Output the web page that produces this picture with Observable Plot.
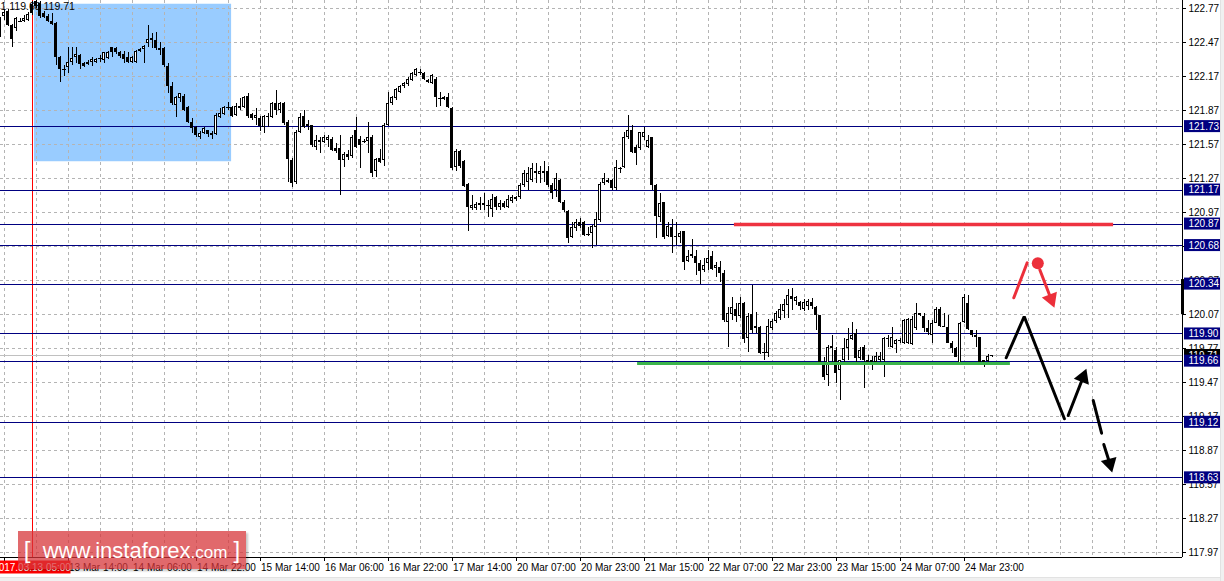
<!DOCTYPE html>
<html><head><meta charset="utf-8">
<script src="https://cdn.jsdelivr.net/npm/d3@7"></script>
<script src="https://cdn.jsdelivr.net/npm/@observablehq/plot@0.6"></script>
<style>
html,body{margin:0;padding:0;background:#fff;}
#wrap{position:relative;width:1224px;height:581px;overflow:hidden;font-family:"Liberation Sans",Arial,sans-serif;}
#wrap svg{position:absolute;left:0;top:0;}
#wm{position:absolute;left:18px;top:531px;width:228px;height:38px;background:rgba(214,52,56,0.74);color:#fff;
 font-family:"Liberation Sans",Arial,sans-serif;font-size:22px;line-height:37px;text-align:center;white-space:nowrap;
 box-shadow:2px 2px 2px rgba(0,0,0,0.22);}
#wm .c{font-size:17px;}
#wm .b{font-size:24px;font-weight:lighter;}
#bot{position:absolute;left:0;top:577px;width:1224px;height:4px;background:#f0f0f0;border-top:1px solid #e2e2e2;}
#rgt{position:absolute;left:1220px;top:0;width:4px;height:581px;background:#f0f0f0;border-left:1px solid #e2e2e2;}
</style></head><body><div id="wrap"></div>
<script>
// ---- data ----
const firstBar = -1;
const open = [122.67,122.70,122.75,122.62,122.60,122.66,122.66,122.67,122.81,122.83,122.82,122.73,122.70,122.66,122.64,122.34,122.23,122.25,122.30,122.34,122.36,122.29,122.28,122.30,122.30,122.33,122.31,122.33,122.43,122.42,122.38,122.37,122.34,122.30,122.30,122.39,122.41,122.46,122.51,122.49,122.42,122.42,122.26,122.08,121.92,121.98,122.00,121.90,121.77,121.72,121.63,121.67,121.70,121.67,121.66,121.81,121.84,121.90,121.90,121.83,121.89,121.90,122.00,121.84,121.80,121.80,121.72,121.81,121.81,121.93,121.87,121.93,121.77,121.43,121.24,121.68,121.82,121.75,121.74,121.55,121.59,121.59,121.61,121.62,121.54,121.54,121.43,121.48,121.47,121.70,121.62,121.60,121.60,121.63,121.33,121.45,121.43,121.74,121.93,121.98,122.03,122.08,122.10,122.14,122.18,122.21,122.20,122.14,122.11,122.15,121.98,121.97,121.99,121.89,121.37,121.51,121.42,121.22,121.01,121.01,121.03,121.05,121.03,121.00,121.10,121.02,121.05,121.02,121.07,121.09,121.10,121.21,121.24,121.25,121.33,121.31,121.33,121.33,121.21,121.17,121.25,121.06,120.98,120.75,120.83,120.88,120.88,120.78,120.79,120.84,120.90,121.23,121.25,121.25,121.18,121.36,121.37,121.63,121.70,121.55,121.54,121.63,121.55,121.63,121.21,120.93,121.06,120.76,120.84,120.76,120.75,120.80,120.54,120.58,120.58,120.52,120.46,120.52,120.58,120.48,120.49,120.43,120.00,120.07,120.12,120.05,120.17,119.86,120.07,119.95,119.96,119.74,119.73,119.95,120.01,120.04,120.10,120.15,120.23,120.19,120.18,120.12,120.14,120.18,120.13,120.06,119.65,119.53,119.79,119.75,119.58,119.67,119.77,119.85,119.90,119.68,119.78,119.67,119.65,119.65,119.67,119.67,119.86,119.78,119.81,119.83,119.82,119.82,119.81,119.95,120.08,120.05,119.95,119.89,119.99,120.12,119.97,119.96,119.82,119.77,119.64,120.00,120.17,119.93,119.89,119.87,119.65,119.66,119.70];
const high = [122.69,122.76,122.76,122.63,122.69,122.68,122.71,122.74,122.83,122.84,122.83,122.75,122.72,122.73,122.65,122.35,122.27,122.43,122.43,122.43,122.37,122.30,122.31,122.34,122.33,122.36,122.38,122.39,122.43,122.43,122.39,122.39,122.38,122.35,122.40,122.42,122.45,122.62,122.55,122.56,122.47,122.43,122.29,122.12,122.00,122.02,122.01,121.91,121.80,121.73,121.69,121.72,121.70,121.69,121.85,121.89,121.91,121.94,121.91,121.93,121.98,122.00,122.02,121.85,121.89,121.82,121.83,121.85,121.94,122.05,121.94,121.94,121.78,121.45,121.70,121.85,121.87,121.78,121.74,121.65,121.63,121.65,121.65,121.63,121.58,121.65,121.50,121.52,121.65,121.81,121.64,121.62,121.77,121.65,121.45,121.53,121.76,122.03,122.00,122.07,122.09,122.12,122.16,122.21,122.24,122.23,122.21,122.15,122.19,122.16,122.03,122.00,122.02,121.90,121.53,121.52,121.43,121.23,121.12,121.06,121.10,121.14,121.08,121.13,121.11,121.08,121.07,121.12,121.12,121.11,121.23,121.34,121.37,121.40,121.40,121.38,121.42,121.38,121.23,121.32,121.26,121.08,120.99,120.88,120.91,120.92,120.89,120.84,120.86,120.97,121.24,121.32,121.27,121.26,121.43,121.37,121.68,121.83,121.74,121.56,121.68,121.72,121.65,121.63,121.22,121.14,121.06,120.88,120.91,120.88,120.80,120.80,120.64,120.73,120.64,120.55,120.57,120.64,120.63,120.53,120.54,120.46,120.13,120.22,120.17,120.22,120.18,120.08,120.33,120.09,119.97,119.82,120.03,120.03,120.10,120.16,120.20,120.29,120.30,120.23,120.19,120.20,120.20,120.21,120.14,120.06,119.69,119.80,119.89,119.78,119.67,119.86,119.95,120.00,119.94,119.78,119.80,119.71,119.70,119.74,119.74,119.87,119.89,119.96,119.85,119.86,120.03,120.04,120.05,120.17,120.08,120.08,120.02,120.02,120.13,120.13,120.08,120.06,119.83,119.78,120.00,120.25,120.24,119.93,119.93,119.87,119.67,119.72,119.71];
const low = [122.52,122.67,122.61,122.43,122.57,122.65,122.65,122.66,122.71,122.77,122.68,122.68,122.65,122.62,122.27,122.12,122.17,122.20,122.27,122.29,122.23,122.25,122.27,122.26,122.29,122.30,122.29,122.32,122.34,122.37,122.33,122.29,122.29,122.29,122.29,122.38,122.29,122.43,122.42,122.40,122.36,122.25,122.02,121.92,121.81,121.94,121.86,121.76,121.67,121.63,121.62,121.66,121.63,121.62,121.65,121.80,121.83,121.87,121.81,121.82,121.87,121.89,121.80,121.78,121.74,121.69,121.67,121.72,121.80,121.83,121.85,121.74,121.24,121.19,121.22,121.67,121.71,121.70,121.55,121.52,121.49,121.58,121.55,121.51,121.49,121.12,121.37,121.43,121.45,121.54,121.36,121.58,121.49,121.28,121.28,121.40,121.38,121.73,121.92,121.96,122.02,122.07,122.08,122.13,122.17,122.18,122.14,122.11,122.10,121.90,121.91,121.96,121.89,121.34,121.33,121.36,121.19,120.80,120.99,120.99,120.99,120.99,120.93,120.93,120.99,120.99,121.01,121.01,121.05,121.07,121.09,121.19,121.17,121.24,121.23,121.23,121.24,121.19,121.09,121.10,121.05,120.97,120.70,120.74,120.80,120.83,120.76,120.76,120.65,120.68,120.88,121.21,121.23,121.17,121.17,121.32,121.36,121.62,121.49,121.39,121.52,121.61,121.54,121.17,120.74,120.88,120.73,120.75,120.61,120.68,120.70,120.46,120.53,120.57,120.42,120.34,120.44,120.46,120.46,120.40,120.35,120.00,119.78,120.02,120.00,120.04,119.82,119.74,119.90,119.90,119.72,119.67,119.69,119.93,119.99,120.02,120.04,120.04,120.11,120.15,120.11,120.10,120.11,120.12,119.93,119.64,119.49,119.44,119.64,119.46,119.31,119.65,119.67,119.84,119.65,119.67,119.42,119.64,119.58,119.64,119.64,119.52,119.78,119.77,119.73,119.82,119.81,119.81,119.80,119.93,120.05,119.91,119.89,119.82,119.99,119.96,119.96,119.82,119.73,119.69,119.64,119.99,119.93,119.87,119.78,119.64,119.60,119.63,119.69];
const close = [122.53,122.74,122.62,122.50,122.68,122.66,122.68,122.72,122.73,122.79,122.70,122.69,122.66,122.63,122.34,122.23,122.23,122.30,122.33,122.37,122.28,122.26,122.30,122.32,122.32,122.33,122.38,122.38,122.38,122.38,122.35,122.32,122.30,122.34,122.39,122.41,122.44,122.50,122.49,122.42,122.40,122.27,122.08,121.93,121.99,122.02,121.87,121.77,121.71,121.65,121.67,121.71,121.66,121.65,121.83,121.85,121.90,121.90,121.82,121.91,121.91,121.99,121.82,121.80,121.83,121.73,121.82,121.82,121.93,121.87,121.93,121.76,121.44,121.23,121.68,121.81,121.72,121.73,121.56,121.61,121.61,121.63,121.63,121.52,121.51,121.43,121.48,121.46,121.63,121.55,121.56,121.60,121.63,121.32,121.44,121.41,121.74,121.93,121.99,122.06,122.08,122.11,122.15,122.20,122.23,122.21,122.15,122.12,122.18,121.99,121.98,121.99,121.90,121.36,121.51,121.38,121.20,121.02,121.03,121.04,121.05,121.03,121.03,121.09,121.02,121.05,121.02,121.09,121.10,121.10,121.21,121.32,121.32,121.36,121.32,121.33,121.32,121.21,121.14,121.27,121.06,120.99,120.74,120.84,120.88,120.85,120.77,120.78,120.85,120.91,121.22,121.27,121.24,121.18,121.37,121.36,121.63,121.70,121.50,121.49,121.68,121.68,121.61,121.21,120.94,121.05,120.75,120.85,120.75,120.75,120.79,120.53,120.58,120.60,120.52,120.45,120.50,120.57,120.47,120.50,120.43,120.02,120.08,120.13,120.05,120.17,119.85,120.05,119.93,119.97,119.73,119.74,119.97,120.01,120.08,120.12,120.16,120.24,120.20,120.22,120.14,120.18,120.19,120.14,120.06,119.65,119.52,119.78,119.77,119.55,119.67,119.77,119.85,119.89,119.68,119.75,119.67,119.65,119.67,119.70,119.70,119.86,119.85,119.87,119.84,119.84,120.02,120.03,120.03,120.08,120.06,119.95,119.91,119.99,120.12,119.97,119.96,119.82,119.77,119.69,119.99,120.22,119.94,119.89,119.87,119.64,119.67,119.70,119.71];

const priceTicks = [122.77,122.47,122.17,121.87,121.57,121.27,120.97,120.67,120.37,120.07,119.77,119.47,119.17,118.87,118.57,118.27,117.97];
const timeTickBars = [0,16,32,48,64,80,96,112,128,144,160,176,192,208,224,240];
const timeTickLabels = ["","13 Mar 14:00","14 Mar 06:00","14 Mar 22:00","15 Mar 14:00","16 Mar 06:00","16 Mar 22:00","17 Mar 14:00","20 Mar 07:00","20 Mar 23:00","21 Mar 15:00","22 Mar 07:00","22 Mar 23:00","23 Mar 15:00","24 Mar 07:00","24 Mar 23:00"];
const gridBars = d3.range(0, 289, 8);
const levelPrices = [121.73,121.17,120.87,120.68,120.34,119.90,119.66,119.12,118.63];
const bidPrice = 119.71;
const vlineBar = 7;
const vlineLabel = "2017.03.13 05:00";
const headerText = "1 119.68 119.71";
const zoneBars = [7.6, 56.9];
const zonePrices = [122.81, 121.42];
const resistBars = [182.6, 277.4], resistPrice = 120.865;
const supportBars = [158.4, 251.6], supportPrice = 119.64;
const sideBarPrices = [120.07, 120.38];
const redStroke = {bars:[252.45,255.8], prices:[120.219,120.528]};
const redDot = {bar:258.45, price:120.525};
const redArrow = {bars:[258.95,262.6], prices:[120.466,120.131]};
const zigBars = [250.55,255.05,265.1], zigPrices = [119.690,120.054,119.151];
const blackArrow1 = {bars:[266.05,270.6], prices:[119.18,119.593]};
const blackDash = {bars:[272.3,274.4], prices:[119.313,119.024]};
const blackArrow2 = {bars:[274.95,277.05], prices:[118.924,118.677]};

// ---- scales ----
const xDomain = [-0.875, 294.625];
const yDomain = [117.927, 122.843];
const plotW = 1182, plotH = 557;
const pxBar = plotW / (xDomain[1]-xDomain[0]);
const pxPrice = plotH / (yDomain[1]-yDomain[0]);
const xMin = xDomain[0], xMax = xDomain[1], yMin = yDomain[0], yMax = yDomain[1];

const bars = open.map((o,i)=>({n:firstBar+i, o, h:high[i], l:low[i], c:close[i]}));
const up = bars.filter(d=>d.c>d.o), down = bars.filter(d=>d.c<d.o), flat = bars.filter(d=>d.c===d.o);
const hw = 0.375;

function head(a, tipLen){
  const tx=a.bars[1], tp=a.prices[1];
  const dx=(a.bars[1]-a.bars[0])*pxBar, dy=-(a.prices[1]-a.prices[0])*pxPrice;
  const L=Math.hypot(dx,dy), ux=dx/L, uy=dy/L;
  return {n: tx-tipLen*ux/pxBar, p: tp+tipLen*uy/pxPrice, rot: Math.atan2(ux,-uy)*180/Math.PI};
}
const R = 6, tipLen = 2*Math.sqrt(Math.PI*R*R/(3*Math.sqrt(3)));
const heads = [
  Object.assign(head(redArrow, tipLen), {color:"#ec2f3a"}),
  Object.assign(head(blackArrow1, tipLen), {color:"#000"}),
  Object.assign(head({bars:[blackDash.bars[0], blackArrow2.bars[1]], prices:[blackDash.prices[0], blackArrow2.prices[1]]}, tipLen), {color:"#000"})
];
const shafts = [
  {x1:redArrow.bars[0], y1:redArrow.prices[0], x2:heads[0].n, y2:heads[0].p, color:"#ec2f3a"},
  {x1:blackArrow1.bars[0], y1:blackArrow1.prices[0], x2:heads[1].n, y2:heads[1].p, color:"#000"},
  {x1:blackDash.bars[0], y1:blackDash.prices[0], x2:blackDash.bars[1], y2:blackDash.prices[1], color:"#000"},
  {x1:blackArrow2.bars[0], y1:blackArrow2.prices[0], x2:heads[2].n, y2:heads[2].p, color:"#000"},
  {x1:redStroke.bars[0], y1:redStroke.prices[0], x2:redStroke.bars[1], y2:redStroke.prices[1], color:"#ec2f3a"}
];
const zig = zigBars.map((b,i)=>({n:b, p:zigPrices[i]}));
const font = "Liberation Sans, Arial, sans-serif";
const boxHalf = 6/pxPrice;

const chart = Plot.plot({
  width: 1224, height: 581,
  marginLeft: 0, marginRight: 1224-plotW, marginTop: 0, marginBottom: 581-plotH,
  x: {type:"linear", domain:xDomain, axis:null},
  y: {type:"linear", domain:yDomain, axis:null},
  style: {background:"white", fontFamily:font, fontSize:"10px", overflow:"visible"},
  marks: [
    Plot.rect([0], {x1:()=>zoneBars[0], x2:()=>zoneBars[1], y1:()=>zonePrices[0], y2:()=>zonePrices[1], fill:"#99ccff"}),
    Plot.ruleY(priceTicks, {stroke:"#b4b4b4", strokeDasharray:"3,3", shapeRendering:"crispEdges"}),
    Plot.ruleX(gridBars, {stroke:"#b4b4b4", strokeDasharray:"3,3", shapeRendering:"crispEdges"}),
    Plot.ruleX([vlineBar], {stroke:"#ff0000", shapeRendering:"crispEdges"}),
    Plot.text([headerText], {x:()=>xMin, y:()=>yMax, text:d=>d, textAnchor:"start", dy:6, fontSize:10.5, fill:"#000"}),
    Plot.ruleY([bidPrice], {stroke:"#c0c0c0", shapeRendering:"crispEdges"}),
    Plot.ruleY(levelPrices, {stroke:"#000080", strokeWidth:1, shapeRendering:"crispEdges"}),
    // candles
    Plot.ruleX(bars, {x:"n", y1:"l", y2:"h", stroke:"#000", shapeRendering:"crispEdges"}),
    Plot.rect(down, {x1:d=>d.n-hw, x2:d=>d.n+hw, y1:"o", y2:"c", fill:"#000", shapeRendering:"crispEdges"}),
    Plot.rect(up, {x1:d=>d.n-hw, x2:d=>d.n+hw, y1:"o", y2:"c", fill:"#fff", stroke:"#000", inset:0.5, shapeRendering:"crispEdges"}),
    Plot.ruleY(flat, {y:"o", x1:d=>d.n-hw, x2:d=>d.n+hw+0.25, stroke:"#000", shapeRendering:"crispEdges"}),
    // drawn levels
    Plot.ruleY([resistPrice], {x1:()=>resistBars[0], x2:()=>resistBars[1], stroke:"#ee3340", strokeWidth:3.5}),
    Plot.ruleY([supportPrice], {x1:()=>supportBars[0], x2:()=>supportBars[1], stroke:"#3cb44b", strokeWidth:3}),
    // forecast arrows
    Plot.line(zig, {x:"n", y:"p", stroke:"#000", strokeWidth:3, strokeLinecap:"round", strokeLinejoin:"miter"}),
    Plot.link(shafts, {x1:"x1", y1:"y1", x2:"x2", y2:"y2", stroke:"color", strokeWidth:3, strokeLinecap:"round"}),
    Plot.dot(heads, {x:"n", y:"p", symbol:"triangle", r:R, fill:"color", rotate:"rot"}),
    Plot.dot([redDot], {x:"bar", y:"price", r:6, fill:"#ec2f3a"}),
    // axes
    Plot.ruleX([xMax], {y1:yMin, y2:yMax, stroke:"#000", shapeRendering:"crispEdges"}),
    Plot.ruleY([yMin], {x1:xMin, x2:xMax, stroke:"#000", shapeRendering:"crispEdges"}),
    Plot.ruleX([xMax], {y1:()=>sideBarPrices[0], y2:()=>sideBarPrices[1], stroke:"#000", strokeWidth:3}),
    Plot.ruleY(priceTicks, {x1:xMax, x2:xMax+1, stroke:"#000", shapeRendering:"crispEdges"}),
    Plot.text(priceTicks, {x:()=>xMax, y:d=>d, text:d=>d.toFixed(2), textAnchor:"start", dx:6, fontSize:10, fill:"#000"}),
    Plot.ruleX(timeTickBars, {y1:yMin, y2:yMin-4/pxPrice, stroke:"#000", shapeRendering:"crispEdges"}),
    Plot.text(timeTickBars, {x:d=>d, y:()=>yMin, text:(d,i)=>timeTickLabels[i], textAnchor:"start", dx:1, dy:10, fontSize:10, fill:"#000"}),
    // right labels
    Plot.rect([bidPrice], {x1:xMax+0.5, x2:xMax+9.5, y1:d=>d-boxHalf, y2:d=>d+boxHalf, fill:"#000"}),
    Plot.text([bidPrice], {x:()=>xMax, y:d=>d, text:d=>d.toFixed(2), textAnchor:"start", dx:6, fontSize:10, fill:"#fff"}),
    Plot.rect(levelPrices, {x1:xMax+0.5, x2:xMax+9.5, y1:d=>d-boxHalf, y2:d=>d+boxHalf, fill:"#000080"}),
    Plot.text(levelPrices, {x:()=>xMax, y:d=>d, text:d=>d.toFixed(2), textAnchor:"start", dx:6, fontSize:10, fill:"#fff"}),
    // vertical line time label
    Plot.rect([vlineBar], {x1:d=>d-9.75, x2:d=>d+9.75, y1:yMin-3.5/pxPrice, y2:yMin-16.5/pxPrice, fill:"#ff0000"}),
    Plot.text([vlineBar], {x:d=>d, y:()=>yMin, text:()=>vlineLabel, dy:10, fontSize:10, fill:"#fff"})
  ]
});
const wrap = document.getElementById("wrap");
wrap.appendChild(chart);
wrap.insertAdjacentHTML("beforeend",
  '<div id="bot"></div><div id="rgt"></div>' +
  '<div id="wm"><span class="b">[</span>&nbsp;&nbsp;www.instaforex<span class="c">.com</span>&nbsp;<span class="b">]</span></div>');
</script></body></html>
